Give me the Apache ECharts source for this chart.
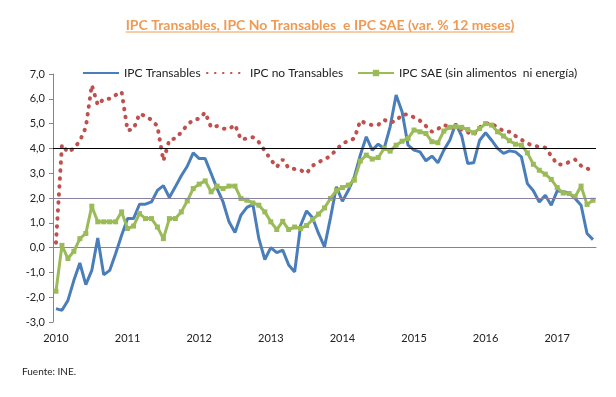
<!DOCTYPE html>
<html>
<head>
<meta charset="utf-8">
<script src="https://cdn.jsdelivr.net/npm/echarts@6/dist/echarts.min.js"></script>
<style>
html, body { margin: 0; padding: 0; background: #fff; }
#chart { width: 616px; height: 397px; }
</style>
</head>
<body>
<div id="chart"></div>
<script>
// monthly, Jan 2010 .. Jul 2017
var startYear = 2010;
var nMonths = 91;
var months = [];
for (var k = 0; k < nMonths; k++) {
    var y = startYear + Math.floor(k / 12);
    var m = (k % 12) + 1;
    months.push(y + '-' + (m < 10 ? '0' + m : m));
}

var transables = [
    -2.46, -2.53, -2.13, -1.32, -0.62, -1.49, -0.92, 0.39, -1.10, -0.92, -0.24, 0.50,
    1.17, 1.17, 1.75, 1.75, 1.84, 2.31, 2.50, 2.02, 2.45, 2.90, 3.28, 3.82,
    3.59, 3.59, 2.99, 2.38, 1.84, 1.04, 0.61, 1.31, 1.62, 1.74, 0.36, -0.48,
    0.00, -0.20, -0.10, -0.70, -0.98, 0.90, 1.48, 1.20, 0.57, 0.03, 1.20, 2.45,
    1.87, 2.31, 2.85, 3.73, 4.47, 3.93, 4.17, 4.00, 4.87, 6.15, 5.48, 4.13,
    3.93, 3.86, 3.50, 3.69, 3.42, 3.93, 4.33, 5.00, 4.50, 3.39, 3.42, 4.33,
    4.63, 4.33, 4.00, 3.80, 3.90, 3.86, 3.66, 2.58, 2.29, 1.84, 2.11, 1.71,
    2.29, 2.25, 2.20, 1.98, 1.71, 0.57, 0.32
];

var noTransables = [
    0.20, 4.15, 3.85, 4.00, 4.30, 4.85, 6.55, 5.75, 6.00, 6.00, 6.15, 6.28,
    4.72, 4.78, 5.40, 5.30, 5.15, 4.90, 3.50, 4.35, 4.40, 4.65, 4.95, 5.15,
    5.20, 5.45, 4.85, 4.90, 4.80, 4.78, 4.95, 4.36, 4.40, 4.45, 4.25, 3.90,
    3.55, 3.25, 3.55, 3.20, 3.17, 3.12, 3.00, 3.30, 3.45, 3.55, 3.70, 3.95,
    4.20, 4.30, 4.40, 5.12, 5.00, 4.94, 4.95, 5.15, 5.05, 5.10, 5.37, 5.37,
    5.25, 5.12, 4.90, 4.67, 4.78, 4.95, 4.85, 4.85, 4.75, 4.65, 4.55, 4.85,
    5.00, 5.00, 4.85, 4.70, 4.67, 4.50, 4.35, 4.20, 4.10, 4.07, 4.03, 3.70,
    3.36, 3.35, 3.45, 3.55, 3.30, 3.18, 3.15
];

var sae = [
    -1.76, 0.09, -0.44, -0.15, 0.36, 0.57, 1.67, 1.04, 1.04, 1.04, 1.04, 1.44,
    0.77, 0.87, 1.37, 1.17, 1.17, 0.83, 0.36, 1.17, 1.17, 1.44, 1.88, 2.38,
    2.56, 2.69, 2.25, 2.48, 2.38, 2.48, 2.48, 1.98, 1.91, 1.80, 1.71, 1.44,
    1.04, 0.73, 1.06, 0.73, 0.83, 0.77, 0.89, 1.13, 1.35, 1.60, 1.98, 2.31,
    2.42, 2.52, 2.72, 3.49, 3.73, 3.57, 3.63, 4.00, 3.89, 4.13, 4.29, 4.40,
    4.74, 4.67, 4.60, 4.27, 4.23, 4.70, 4.85, 4.88, 4.85, 4.76, 4.63, 4.80,
    5.00, 4.94, 4.67, 4.50, 4.31, 4.17, 4.13, 3.82, 3.36, 3.12, 2.96, 2.75,
    2.42, 2.20, 2.18, 2.05, 2.48, 1.74, 1.91
];

var refLines = [4, 2];

var titleText = 'IPC Transables, IPC No Transables  e IPC SAE (var. % 12 meses)';
var fontFam = 'Lato, "Open Sans", sans-serif';
var titleFont = 'bold 14px ' + fontFam;
var titleCenter = 320;

// width of the title, for the underline
var cv = document.createElement('canvas').getContext('2d');
cv.font = titleFont;
var titleW = cv.measureText(titleText).width;

var chart = echarts.init(document.getElementById('chart'), null, { renderer: 'canvas' });

var blue = '#4A7EBB', red = '#C0504D', green = '#9BBB59';

var option = {
    animation: false,
    textStyle: { fontFamily: fontFam },
    title: {
        text: titleText,
        left: titleCenter - titleW / 2,
        top: 18,
        padding: 0,
        textStyle: { fontFamily: fontFam, fontSize: 14, fontWeight: 'bold', color: '#EE9B55' }
    },
    graphic: [
        {
            type: 'line',
            shape: { x1: titleCenter - titleW / 2, y1: 32, x2: titleCenter + titleW / 2, y2: 32 },
            style: { stroke: '#EE9B55', lineWidth: 1 }
        },
        {
            type: 'text',
            left: 22,
            top: 367,
            style: { text: 'Fuente: INE.', fontSize: 10, fontFamily: fontFam, fill: '#222' }
        }
    ],
    legend: [
        {
            left: 77, top: 62, itemWidth: 36, itemHeight: 8,
            data: ['IPC Transables'],
            itemStyle: { opacity: 0 },
            textStyle: { fontSize: 12, color: '#222' }
        },
        {
            left: 201, top: 62, itemWidth: 38, itemHeight: 8,
            data: ['IPC no Transables'],
            itemStyle: { opacity: 0 },
            textStyle: { fontSize: 12, color: '#222' }
        },
        {
            left: 352, top: 62, itemWidth: 36, itemHeight: 8,
            data: ['IPC SAE (sin alimentos  ni energía)'],
            textStyle: { fontSize: 12, color: '#222' }
        }
    ],
    grid: { left: 53, right: 20, top: 74, bottom: 75 },
    xAxis: [
        {
            type: 'category',
            data: months,
            boundaryGap: true,
            axisLine: { show: false, onZero: false },
            axisTick: { show: false },
            axisLabel: {
                interval: 11,
                margin: 11,
                fontSize: 11,
                color: '#222',
                formatter: function (v) { return v.slice(0, 4); }
            }
        },
        {
            type: 'category',
            data: months,
            boundaryGap: true,
            position: 'bottom',
            axisLine: { onZero: true, onZeroAxisIndex: 0, lineStyle: { color: '#868686', width: 1 } },
            axisTick: { interval: 0, length: 4, lineStyle: { color: '#868686' } },
            axisLabel: { show: false }
        }
    ],
    yAxis: {
        type: 'value',
        min: -3,
        max: 7,
        interval: 1,
        axisLine: { show: true, lineStyle: { color: '#868686' } },
        axisTick: { show: true, length: 4, lineStyle: { color: '#868686' } },
        splitLine: { show: false },
        axisLabel: {
            fontSize: 11,
            color: '#222',
            margin: 8,
            formatter: function (v) { return v.toFixed(1).replace('.', ','); }
        }
    },
    series: [
        {
            name: 'IPC Transables',
            type: 'line',
            data: transables,
            symbol: 'none',
            lineStyle: { color: blue, width: 3 },
            itemStyle: { color: blue },
            markLine: {
                silent: true,
                symbol: 'none',
                label: { show: false },
                data: [
                    { yAxis: refLines[0], lineStyle: { color: '#000', width: 1.2, type: 'solid' } },
                    { yAxis: refLines[1], lineStyle: { color: '#8A80A0', width: 1, type: 'solid' } }
                ]
            }
        },
        {
            name: 'IPC no Transables',
            type: 'line',
            data: noTransables,
            symbol: 'none',
            lineStyle: { color: red, width: 4, type: [0.5, 7.5], cap: 'round' },
            itemStyle: { color: red }
        },
        {
            name: 'IPC SAE (sin alimentos  ni energía)',
            type: 'line',
            data: sae,
            symbol: 'rect',
            symbolSize: 5,
            showAllSymbol: true,
            lineStyle: { color: green, width: 3 },
            itemStyle: { color: green }
        }
    ]
};

chart.setOption(option);
</script>
</body>
</html>
